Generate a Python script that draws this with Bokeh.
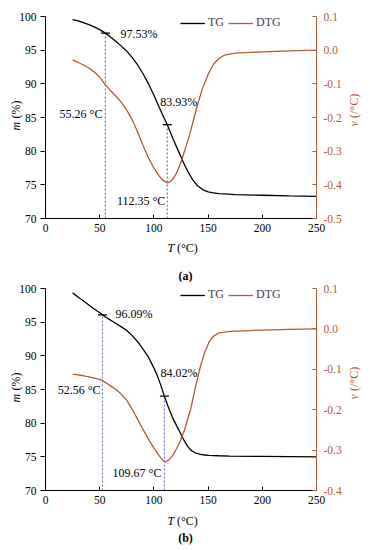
import math
from bokeh.plotting import figure
from bokeh.models import (Range1d, LinearAxis, FixedTicker, PrintfTickFormatter,
                          Legend, LegendItem, Label)
from bokeh.layouts import column
from bokeh.embed import file_html
from bokeh.resources import INLINE

# ---------------- data ----------------
x_ticks = [0, 50, 100, 150, 200, 250]
m_ticks = [70, 75, 80, 85, 90, 95, 100]

# panel (a)
temp_a = [25, 30, 35, 40, 45, 50, 55.26, 60, 65, 70, 75, 80, 85, 90, 95,
          100, 105, 108, 112.35, 115, 118, 121, 124, 127, 130, 133, 136,
          140, 145, 150, 155, 160, 165, 175, 200, 225, 250]
tg_a = [99.55, 99.35, 99.1, 98.8, 98.45, 98.05, 97.53, 96.95, 96.3, 95.6, 94.85,
        93.9, 92.8, 91.5, 90.0, 88.3, 86.5, 85.4, 83.93, 82.9, 81.7, 80.6, 79.5,
        78.4, 77.4, 76.5, 75.7, 74.9, 74.3, 73.95, 73.8, 73.7, 73.65, 73.55,
        73.45, 73.35, 73.3]
dtg_a = [-0.029, -0.036, -0.044, -0.053, -0.065, -0.080, -0.103, -0.12, -0.137,
         -0.155, -0.178, -0.207, -0.243, -0.283, -0.32, -0.35, -0.374, -0.386,
         -0.394, -0.391, -0.381, -0.364, -0.341, -0.313, -0.282, -0.25, -0.214,
         -0.165, -0.112, -0.072, -0.042, -0.024, -0.015, -0.009, -0.005, -0.002, 0.0]
mark_t_a = [55.26, 112.35]
mark_m_a = [97.53, 83.93]
v_ticks_a = [-0.5, -0.4, -0.3, -0.2, -0.1, 0.0, 0.1]

# panel (b)
temp_b = [25, 30, 35, 40, 45, 50, 52.56, 56, 60, 65, 70, 75, 80, 85, 90, 95,
          100, 103, 106, 109.67, 113, 117, 121, 124.5, 128, 131, 134, 138,
          143, 147, 151, 155, 160, 170, 200, 225, 250]
tg_b = [99.35, 98.75, 98.15, 97.55, 96.95, 96.4, 96.09, 95.7, 95.3, 94.8, 94.3,
        93.75, 93.0, 92.1, 91.0, 89.8, 88.2, 87.1, 85.8, 84.02, 82.5, 80.9, 79.6,
        78.5, 77.4, 76.6, 76.0, 75.6, 75.35, 75.27, 75.22, 75.19, 75.16, 75.12,
        75.06, 75.03, 75.0]
dtg_b = [-0.112, -0.114, -0.116, -0.119, -0.122, -0.125, -0.128, -0.134, -0.141,
         -0.150, -0.162, -0.177, -0.199, -0.224, -0.249, -0.273, -0.295, -0.307,
         -0.318, -0.329, -0.326, -0.315, -0.296, -0.276, -0.252, -0.225, -0.198,
         -0.148, -0.092, -0.057, -0.032, -0.018, -0.010, -0.006, -0.003, -0.001, 0.0]
mark_t_b = [52.56, 109.67]
mark_m_b = [96.09, 84.02]
v_ticks_b = [-0.4, -0.3, -0.2, -0.1, 0.0, 0.1]

# ---------------- style / geometry ----------------
FONT = "Liberation Serif"
BROWN = "#B35A32"
BLUE = "#5A5AE6"
FIG_W = 362
PLOT_L, PLOT_R = 45, 316          # pixel position of T=0 and T=250
PLOT_H = 202                       # pixel height of the plotting box


def lab(p, text, x, y, xu="screen", yu="screen", align="left", style="normal",
        angle=0.0, xo=0, yo=0, color="black", size="12px"):
    p.add_layout(Label(x=x, y=y, x_units=xu, y_units=yu, text=text,
                       text_font=FONT, text_font_size=size, text_font_style=style,
                       text_align=align, text_baseline="middle", angle=angle,
                       angle_units="rad", x_offset=xo, y_offset=yo, text_color=color))


def panel(temp, tg, dtg, mark_t, mark_m, v_ticks, h, top, pct_offs, deg_offs,
          title_y, cap_text, cap_y, m_start, v_start, legend_y):
    x0, x1 = x_ticks[0], x_ticks[-1]
    m0, m1 = m_ticks[0], m_ticks[-1]
    v0, v1 = v_ticks[0], v_ticks[-1]
    bottom = h - top - PLOT_H
    sx = (PLOT_R - PLOT_L) / (x1 - x0)
    sm = PLOT_H / (m1 - m0)
    sv = PLOT_H / (v1 - v0)
    p = figure(width=FIG_W, height=h,
               x_range=Range1d(x0 - PLOT_L / sx, x1 + (FIG_W - PLOT_R) / sx),
               y_range=Range1d(m0 - bottom / sm, m1 + top / sm),
               output_backend="svg", toolbar_location=None,
               x_axis_location=None, y_axis_location=None,
               min_border=0, min_border_left=0, min_border_right=0,
               min_border_top=0, min_border_bottom=0)
    p.extra_y_ranges = {"v": Range1d(v0 - bottom / sv, v1 + top / sv)}
    p.outline_line_color = None
    for g in p.grid:
        g.visible = False
    p.background_fill_color = "white"
    p.border_fill_color = "white"

    xa = LinearAxis(fixed_location=m0, bounds=(x0, x1), ticker=FixedTicker(ticks=x_ticks))
    ya = LinearAxis(fixed_location=x0, bounds=(m0, m1), ticker=FixedTicker(ticks=m_ticks))
    for ax in (xa, ya):
        ax.axis_line_color = "black"
        ax.major_tick_line_color = "black"
        ax.minor_tick_line_color = None
        ax.major_label_text_font = FONT
        ax.major_label_text_font_size = "11.5px"
        ax.major_label_text_color = "black"
    xa.major_tick_in = 4
    xa.major_tick_out = 0
    xa.major_label_standoff = 5
    ya.major_tick_in = 0
    ya.major_tick_out = 5
    ya.major_label_standoff = 4
    p.add_layout(xa, "below")
    p.add_layout(ya, "left")

    ra = LinearAxis(y_range_name="v", fixed_location=x1, bounds=(v0, v1),
                    ticker=FixedTicker(ticks=v_ticks),
                    formatter=PrintfTickFormatter(format="%.1f"))
    ra.axis_line_color = BROWN
    ra.major_tick_line_color = BROWN
    ra.minor_tick_line_color = None
    ra.major_tick_in = 4
    ra.major_tick_out = 0
    ra.major_label_standoff = 7
    ra.major_label_text_font = FONT
    ra.major_label_text_font_size = "11.5px"
    ra.major_label_text_color = BROWN
    p.add_layout(ra, "right")

    p.segment(x0=mark_t, y0=[m0] * len(mark_t), x1=mark_t, y1=mark_m,
              line_color=BLUE, line_dash="2 2", line_width=1)
    tgr = p.line(temp, tg, line_color="black", line_width=1.3)
    dtr = p.line(temp, dtg, line_color=BROWN, line_width=1.3, y_range_name="v")
    p.scatter(mark_t, mark_m, marker="dash", size=9, line_color="black", line_width=1.2)

    leg = Legend(items=[LegendItem(label="TG", renderers=[tgr]),
                        LegendItem(label="DTG", renderers=[dtr])],
                 orientation="horizontal", location=(180, h - legend_y - 7),
                 padding=0, margin=0, spacing=4, glyph_width=25, glyph_height=14,
                 label_height=14, label_width=14, label_standoff=3,
                 label_text_font=FONT, label_text_font_size="12px",
                 background_fill_alpha=0, border_line_alpha=0)
    p.add_layout(leg)

    # value annotations
    for (t, m), (xo, yo) in zip(zip(mark_t, mark_m), pct_offs):
        lab(p, f"{m:.2f}%", t, m, xu="data", yu="data", xo=xo, yo=yo)
    for t, (xo, py) in zip(mark_t, deg_offs):
        lab(p, f"{t:.2f} °C", t, h - py, xu="data", yu="screen", align="right", xo=xo)

    # axis titles and caption (pixel positions within this figure)
    lab(p, "T", 167, h - title_y, style="italic")
    lab(p, "(°C)", 176.5, h - title_y)
    lab(p, "m", 15, h - m_start, style="italic", angle=math.pi / 2)
    lab(p, "(%)", 15, h - m_start + 12, angle=math.pi / 2)
    lab(p, "v", 353, h - v_start, style="italic", angle=math.pi / 2, color=BROWN)
    lab(p, "(/°C)", 353, h - v_start + 8.5, angle=math.pi / 2, color=BROWN)
    lab(p, cap_text, 185, h - cap_y, align="center", style="bold")
    return p


pa = panel(temp_a, tg_a, dtg_a, mark_t_a, mark_m_a, v_ticks_a, 282, 16,
           [(15, -1), (-7, 23)], [(-3, 113), (-2, 200)],
           247, "(a)", 275, 130, 126, 23)
pb = panel(temp_b, tg_b, dtg_b, mark_t_b, mark_m_b, v_ticks_b, 266, 6,
           [(13, 1), (-4, 23)], [(-2, 107), (-3, 190)],
           238, "(b)", 255, 120, 117, 13)

layout = column(pa, pb)
open("out.html", "w").write(file_html(layout, INLINE))
